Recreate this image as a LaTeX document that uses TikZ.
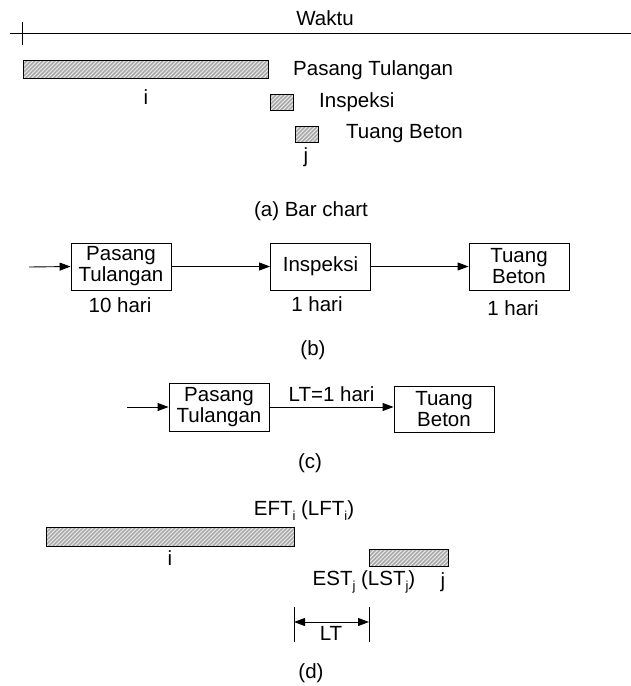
\documentclass[tikz,border=0pt]{standalone}
\usepackage{fontspec}
\setmainfont{Liberation Sans}
\usetikzlibrary{arrows.meta}
\newcommand{\lowsub}[1]{\raisebox{-5pt}{\fontsize{13}{14}\selectfont #1}}
\begin{document}
\begin{tikzpicture}[x=1pt,y=-1pt,
  font=\fontsize{20.5}{21}\selectfont,
  hatchbar/.style={draw=black, line width=0.9pt, fill=gray!18, inner sep=0pt,
    anchor=north west,
    path picture={
      \foreach \k in {-30,-26,...,260}{
        \draw[gray!70, line width=1.3pt]
          ([xshift=\k pt]path picture bounding box.south west) -- ++(30pt,30pt);}}},
  taskbox/.style={draw=black, line width=0.9pt, align=center, inner sep=1pt,
    minimum width=100pt, minimum height=47pt},
  arr/.style={line width=0.9pt, -{Triangle[length=11pt,width=8pt]}},
  label/.style={inner sep=0pt}
]
\useasboundingbox (0,0) rectangle (631,686);

% ---------- (a) bar chart ----------
\coordinate (axL) at (10,33);
\coordinate (axR) at (631,33);
\coordinate (tkT) at (22,22);
\coordinate (tkB) at (22,45);
\draw[line width=0.9pt] (axL) -- (axR);
\draw[line width=0.9pt] (tkT) -- (tkB);
\node[label] (waktu) at (325,18) {Waktu};

\node[hatchbar, minimum width=245pt, minimum height=18pt] (barA) at (23,60) {};
\node[label, anchor=west] (txtA) at (293,70) {Pasang Tulangan};
\node[label] (iA) at (146,97) {i};

\node[hatchbar, minimum width=23pt, minimum height=16pt] (barB) at (270,94) {};
\node[label, anchor=west] (txtB) at (319,102) {Inspeksi};

\node[hatchbar, minimum width=23pt, minimum height=16pt] (barC) at (295,126) {};
\node[label, anchor=west] (txtC) at (346,134) {Tuang Beton};
\node[label] (jA) at (306,157) {j};

\node[label] (capA) at (311,211) {(a) Bar chart};

% ---------- (b) network ----------
\coordinate (inB) at (29,267);
\node[taskbox] (pB) at (121,266.5) {Pasang\\Tulangan};
\node[taskbox] (iB) at (320.5,266.5) {Inspeksi};
\node[taskbox] (tB) at (519,266.5) {Tuang\\Beton};
\draw[arr] (inB) -- (pB.west);
\draw[arr] (pB) -- (iB);
\draw[arr] (iB) -- (tB);
\node[label] (dB1) at (120,305) {10 hari};
\node[label] (dB2) at (317,304) {1 hari};
\node[label] (dB3) at (513,308) {1 hari};
\node[label] (capB) at (313,350) {(b)};

% ---------- (c) lag network ----------
\coordinate (inC) at (127,407);
\node[taskbox, minimum height=48pt] (pC) at (219,407) {Pasang\\Tulangan};
\node[taskbox, minimum height=46pt] (tC) at (444,409) {Tuang\\Beton};
\draw[arr] (inC) -- (pC.west);
\draw[arr] (pC.east) -- node[label, above=5pt] (ltC) {LT=1 hari} (pC.east -| tC.west);
\node[label] (capC) at (310,463) {(c)};

% ---------- (d) lag on bars ----------
\node[label] (eft) at (304,511) {EFT\lowsub{i} (LFT\lowsub{i})};
\node[hatchbar, minimum width=248pt, minimum height=19pt] (barI) at (46,527) {};
\node[label] (iD) at (170,558) {i};
\node[hatchbar, minimum width=79pt, minimum height=17pt] (barJ) at (369,549) {};
\node[label] (est) at (364,582) {EST\lowsub{j} (LST\lowsub{j})};
\node[label] (jD) at (443,582) {j};

\coordinate (lagLt) at (294,607);
\coordinate (lagLb) at (294,642);
\coordinate (lagRt) at (369,607);
\coordinate (lagRb) at (369,642);
\coordinate (lagL) at (294,622);
\coordinate (lagR) at (369,622);
\draw[line width=0.9pt] (lagLt) -- (lagLb);
\draw[line width=0.9pt] (lagRt) -- (lagRb);
\draw[line width=0.9pt, {Triangle[length=11pt,width=8pt]}-{Triangle[length=11pt,width=8pt]}] (lagL) -- (lagR);
\node[label] (ltD) at (331,633) {LT};
\node[label] (capD) at (311,673) {(d)};
\end{tikzpicture}
\end{document}
